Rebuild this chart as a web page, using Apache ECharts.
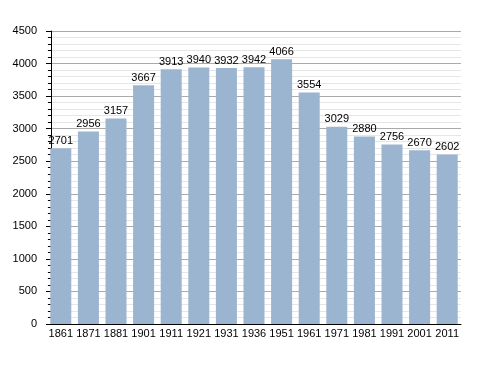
<!DOCTYPE html>
<html><head><meta charset="utf-8">
<script src="https://cdn.jsdelivr.net/npm/echarts@6/dist/echarts.min.js"></script>
<style>html,body{margin:0;padding:0;background:#fff}#c{width:488px;height:373px}</style>
</head><body><div id="c"></div>
<script>
const years = ['1861','1871','1881','1901','1911','1921','1931','1936','1951','1961','1971','1981','1991','2001','2011'];
const population = [2701,2956,3157,3667,3913,3940,3932,3942,4066,3554,3029,2880,2756,2670,2602];
const yTicks = {min:0, max:4500, interval:500};
const chart = echarts.init(document.getElementById('c'));
chart.setOption({
  animation:false,
  textStyle:{fontFamily:'Liberation Sans'},
  grid:{left:47, right:27, top:31, bottom:49},
  xAxis:{type:'category', data:years,
    axisLine:{lineStyle:{color:'#000', width:1}},
    axisTick:{show:false},
    axisLabel:{color:'#000', fontSize:11, margin:4, interval:0}},
  yAxis:{type:'value', min:yTicks.min, max:yTicks.max, interval:yTicks.interval, offset:-4,
    axisLine:{show:true, lineStyle:{color:'#000', width:1}},
    axisTick:{show:true, length:5, lineStyle:{color:'#000'}},
    minorTick:{show:true, splitNumber:5, length:3, lineStyle:{color:'#000'}},
    splitLine:{lineStyle:{color:'#aaa', width:1}},
    minorSplitLine:{show:true, lineStyle:{color:'#e6e6e6', width:1}},
    axisLabel:{color:'#000', fontSize:11, margin:14, formatter:v => String(v)}},
  series:[{type:'bar', data:population, barWidth:21,
    itemStyle:{color:'#9bb4cf'},
    label:{show:true, position:'top', color:'#000', fontSize:11, distance:2}}]
});
</script></body></html>
